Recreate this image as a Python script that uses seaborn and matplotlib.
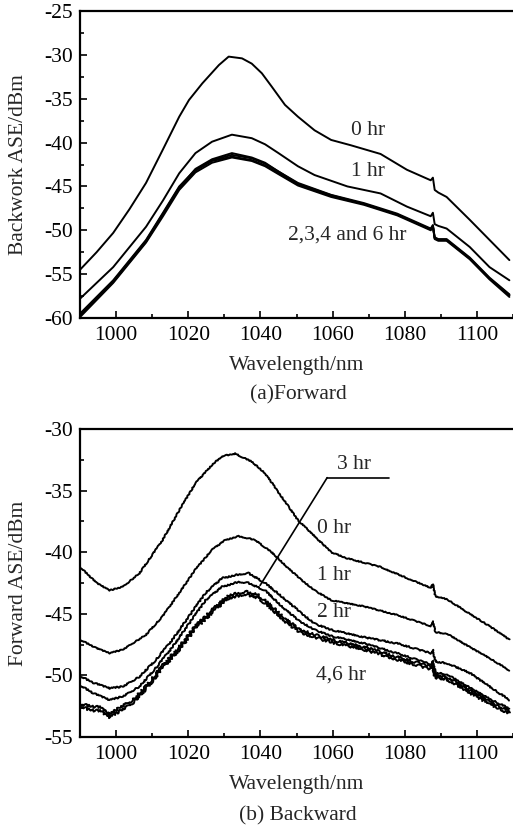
import matplotlib
matplotlib.use("Agg")
import matplotlib.pyplot as plt
from matplotlib.ticker import MultipleLocator
import seaborn as sns

# ---- (a) Forward: wavelength (nm) and ASE (dBm) ----
fw_wl_0 = [990, 994.6, 999.2, 1003.7, 1008.3, 1012.9, 1017.5, 1020.2, 1023.9, 1028.5,
           1031.2, 1034.9, 1037.6, 1040.4, 1043.1, 1046.8, 1050.4, 1055, 1059.6, 1065,
           1073.3, 1080.6, 1087.2, 1087.8, 1088.3, 1089.3, 1091.6, 1098, 1103.5, 1109]
fw_0hr = [-54.5, -52.5, -50.3, -47.6, -44.6, -40.85, -37.05, -35.15, -33.25, -31.16,
          -30.2, -30.4, -31.0, -32.1, -33.6, -35.7, -37.05, -38.6, -39.7, -40.3,
          -41.3, -43.1, -44.3, -44.0, -45.4, -45.7, -46.2, -48.8, -51.1, -53.4]

fw_wl_1 = [990, 999.2, 1008.3, 1013, 1017.5, 1022, 1026.6, 1032.1, 1037.6, 1041.3,
           1045, 1050.4, 1055, 1064.1, 1073.3, 1080.6, 1087.2, 1087.8, 1088.3, 1089.3,
           1091.6, 1098, 1103.5, 1109]
fw_1hr = [-57.8, -54.2, -49.6, -46.6, -43.5, -41.2, -39.9, -39.1, -39.5, -40.2,
          -41.2, -42.7, -43.7, -45.0, -45.8, -47.3, -48.4, -48.0, -49.3, -49.5,
          -49.8, -51.9, -54.2, -55.7]

fw_wl_g = [990, 999.2, 1008.3, 1013, 1017.5, 1022, 1026.6, 1032.1, 1037.6, 1041.3,
           1045, 1050.4, 1059.6, 1068.7, 1077.9, 1087.2, 1087.8, 1088.3, 1089.3, 1091.6,
           1098, 1103.5, 1109]
fw_2hr = [-59.5, -55.7, -51.1, -48.0, -45.0, -43.1, -42.0, -41.4, -41.8, -42.4,
          -43.3, -44.6, -45.96, -46.9, -48.1, -49.8, -49.4, -50.8, -51.0, -51.0,
          -53.1, -55.4, -57.3]
fw_3hr = [-59.7, -55.9, -51.3, -48.2, -45.2, -43.2, -42.1, -41.6, -42.0, -42.6,
          -43.5, -44.8, -46.1, -47.0, -48.2, -49.9, -49.5, -50.9, -51.1, -51.1,
          -53.2, -55.5, -57.4]
fw_4hr = [-59.9, -56.0, -51.4, -48.4, -45.4, -43.4, -42.3, -41.7, -42.1, -42.7,
          -43.6, -44.9, -46.2, -47.1, -48.3, -50.0, -49.6, -51.0, -51.2, -51.2,
          -53.3, -55.6, -57.6]
fw_6hr = [-59.6, -55.8, -51.2, -48.1, -45.1, -43.0, -41.9, -41.2, -41.7, -42.3,
          -43.3, -44.7, -46.0, -47.0, -48.2, -49.9, -49.5, -50.9, -51.1, -51.1,
          -53.2, -55.5, -57.4]

# ---- (b) Backward ----
bw_wl_0 = [990, 994.6, 998.2, 1001.9, 1006.5, 1012.9, 1017.5, 1022, 1026.6, 1029.4,
           1033, 1037.6, 1041.3, 1045.9, 1050.4, 1055, 1059.6, 1064.1, 1073.3, 1080.6,
           1087.2, 1087.8, 1088.5, 1091.6, 1098, 1103.5, 1109]
bw_0hr = [-41.2, -42.5, -43.1, -42.8, -41.7, -39.0, -36.6, -34.4, -32.9, -32.2,
          -32.0, -32.65, -33.6, -35.5, -37.4, -38.7, -40.0, -40.5, -41.2, -42.1,
          -42.9, -42.6, -43.6, -43.8, -45.0, -46.0, -47.1]

bw_wl_1 = [990, 994.6, 998.2, 1001.9, 1008.3, 1012.9, 1017.5, 1022, 1026.6, 1030.3,
           1034, 1038.5, 1043.1, 1047.7, 1050.4, 1055, 1059.6, 1068.7, 1077.9, 1087.2,
           1087.8, 1088.5, 1091.6, 1098, 1103.5, 1109]
bw_1hr = [-47.1, -47.8, -48.2, -47.9, -46.7, -45.2, -43.3, -41.4, -39.8, -39.0,
          -38.7, -39.0, -40.0, -41.3, -42.0, -43.1, -43.9, -44.4, -45.1, -46.0,
          -45.6, -46.5, -46.6, -47.7, -48.6, -49.6]

bw_wl_23 = [990, 993.7, 998.2, 1001.9, 1006.5, 1011, 1015.6, 1020.2, 1024.8, 1029.4,
            1034, 1036.7, 1041.3, 1045.9, 1050.4, 1055, 1059.6, 1068.7, 1077.9, 1087.2,
            1087.8, 1088.5, 1091.6, 1098, 1103.5, 1109]
bw_2hr = [-50.05, -50.6, -51.05, -50.9, -50.1, -48.75, -47.1, -45.2, -43.3, -42.1,
          -41.8, -41.7, -42.5, -43.6, -44.7, -45.8, -46.3, -46.9, -47.4, -48.2,
          -47.9, -48.9, -49.0, -49.8, -50.9, -52.0]
bw_3hr = [-50.8, -51.45, -52.0, -51.7, -50.9, -49.4, -47.7, -45.8, -43.9, -42.8,
          -42.4, -42.5, -43.1, -44.4, -45.5, -46.3, -46.8, -47.4, -48.2, -49.1,
          -48.8, -49.8, -49.9, -51.0, -51.9, -52.7]

bw_wl_46 = [990, 992.7, 995.5, 998.2, 1001, 1004.7, 1008.3, 1012.9, 1017.5, 1022,
            1026.6, 1031.2, 1035.8, 1039.5, 1043.1, 1046.8, 1050.4, 1055, 1059.6, 1068.7,
            1077.9, 1087.2, 1087.8, 1088.5, 1091.6, 1098, 1103.5, 1109]
bw_4hr = [-52.3, -52.5, -52.6, -53.2, -52.6, -52.0, -50.9, -49.2, -47.7, -46.0,
          -44.7, -43.5, -43.2, -43.5, -44.4, -45.4, -46.2, -46.7, -47.1, -47.7,
          -48.5, -49.3, -49.0, -50.0, -50.1, -51.2, -52.1, -52.9]
bw_6hr = [-52.5, -52.8, -52.9, -53.4, -52.9, -52.2, -51.1, -49.4, -47.9, -46.2,
          -44.9, -43.7, -43.4, -43.7, -44.6, -45.6, -46.4, -46.9, -47.3, -47.9,
          -48.7, -49.5, -49.2, -50.2, -50.3, -51.4, -52.3, -53.1]

W, H = 513, 825

sns.set_theme(style="ticks")
plt.rcParams["font.family"] = ["Liberation Serif", "DejaVu Serif"]
plt.rcParams["axes.unicode_minus"] = False

fig = plt.figure(figsize=(W / 100, H / 100), dpi=100)
fig.patch.set_facecolor("white")
ax1 = fig.add_axes([80 / W, 1 - 318 / H, 433 / W, 307 / H])
ax2 = fig.add_axes([80 / W, 1 - 737 / H, 433 / W, 308 / H])

lw = 1.4
for wl, v in [(fw_wl_0, fw_0hr), (fw_wl_1, fw_1hr), (fw_wl_g, fw_2hr),
              (fw_wl_g, fw_3hr), (fw_wl_g, fw_4hr), (fw_wl_g, fw_6hr)]:
    sns.lineplot(x=wl, y=v, ax=ax1, color="black", linewidth=lw)
    ax1.lines[-1].set_solid_joinstyle("round")

curves_b = [(bw_wl_0, bw_0hr, 0.5), (bw_wl_1, bw_1hr, 0.5), (bw_wl_23, bw_2hr, 0.7),
            (bw_wl_23, bw_3hr, 0.7), (bw_wl_46, bw_4hr, 1.3), (bw_wl_46, bw_6hr, 1.3)]
for wl, v, wig in curves_b:
    sns.lineplot(x=wl, y=v, ax=ax2, color="black", linewidth=lw)
    ax2.lines[-1].set_sketch_params(scale=wig, length=3, randomness=4)

fs = 15.5
for ax, ylo, yhi in [(ax1, -60, -25), (ax2, -55, -30)]:
    ax.set_xlim(990, 1110)
    ax.set_ylim(ylo, yhi)
    ax.xaxis.set_major_locator(MultipleLocator(20))
    ax.xaxis.set_minor_locator(MultipleLocator(10))
    ax.yaxis.set_major_locator(MultipleLocator(5))
    ax.yaxis.set_minor_locator(MultipleLocator(2.5))
    ax.tick_params(which="both", direction="in", colors="black", labelsize=fs, width=1.2)
    ax.tick_params(which="major", length=5, pad=5)
    ax.tick_params(which="minor", length=3)
    ax.tick_params(axis="x", which="major", pad=6)
    for s in ["left", "bottom", "top"]:
        ax.spines[s].set_linewidth(1.6)
        ax.spines[s].set_color("black")
    ax.spines["right"].set_visible(False)
    ax.set_facecolor("white")
    ax.set_xlabel("Wavelength/nm", fontsize=fs)
    ax.xaxis.label.set_va("center")
    ax.xaxis.set_label_coords(0.5, -0.155)

ax1.set_ylabel("Backwork ASE/dBm", fontsize=fs, va="center")
ax1.yaxis.set_label_coords(-0.141, 0.5)
ax2.set_ylabel("Forward ASE/dBm", fontsize=fs, va="center")
ax2.yaxis.set_label_coords(-0.141, 0.5)

# curve labels
ax1.text(1069.7, -38.6, "0 hr", fontsize=fs, ha="center", va="center")
ax1.text(1069.7, -43.3, "1 hr", fontsize=fs, ha="center", va="center")
ax1.text(1064.2, -50.5, "2,3,4 and 6 hr", fontsize=fs, ha="center", va="center")

ax2.text(1066, -32.9, "3 hr", fontsize=fs, ha="center", va="center")
ax2.plot([1058.5, 1075.6], [-33.95, -33.95], color="black", lw=1.2)
ax2.annotate("", xy=(1039.9, -42.7), xytext=(1058.5, -33.95),
             arrowprops=dict(arrowstyle="-", color="black", lw=1.2,
                             shrinkA=0, shrinkB=0))
ax2.text(1060.5, -38.06, "0 hr", fontsize=fs, ha="center", va="center")
ax2.text(1060.5, -41.9, "1 hr", fontsize=fs, ha="center", va="center")
ax2.text(1060.3, -44.9, "2 hr", fontsize=fs, ha="center", va="center")
ax2.text(1062.3, -49.97, "4,6 hr", fontsize=fs, ha="center", va="center")

fig.text(298 / W, 1 - 395 / H, "(a)Forward", fontsize=fs, ha="center", va="center")
fig.text(298 / W, 1 - 816 / H, "(b) Backward", fontsize=fs, ha="center", va="center")

fig.savefig("out.png", dpi=100, facecolor="white")
